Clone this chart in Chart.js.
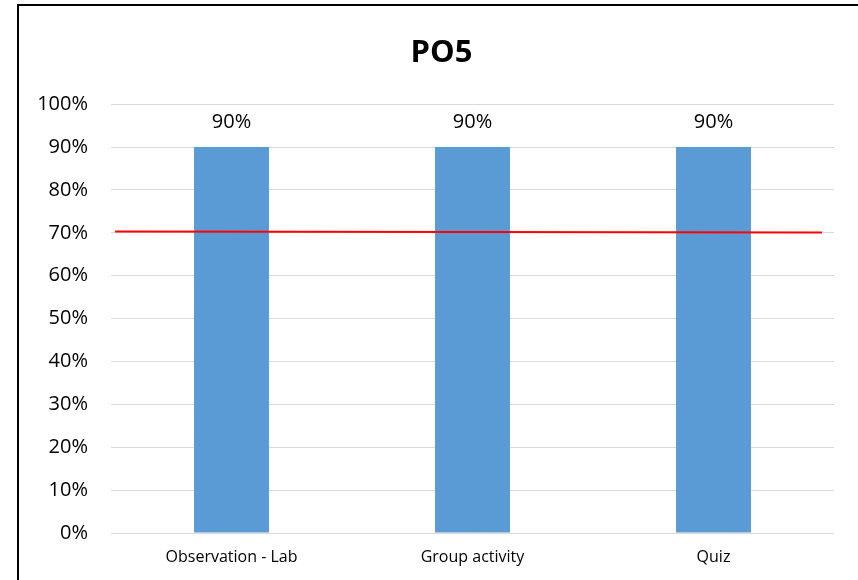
<!DOCTYPE html>
<html lang="en">
<head>
    <meta charset="UTF-8">
    <title>PO5</title>
    <script src="https://cdn.jsdelivr.net/npm/chart.js"></script>
    <style>
        body {
            margin: 0;
            padding: 0;
            background-color: #fff;
            overflow: hidden;
            font-family: "Open Sans", Arial, sans-serif;
        }

        .chart-frame {
            position: absolute;
            left: 17px;
            top: 4px;
            width: 845px;
            height: 580px;
            border: 2px solid #000;
            background-color: #fff;
        }
    </style>
</head>
<body>
    <div class="chart-frame">
        <canvas id="poChart" width="845" height="580"></canvas>
    </div>

    <script>
        // chart data
        const categories = ['Observation - Lab', 'Group activity', 'Quiz'];
        const scores = [0.9, 0.9, 0.9];
        const yTicks = [0, 0.1, 0.2, 0.3, 0.4, 0.5, 0.6, 0.7, 0.8, 0.9, 1.0];

        // target line (runs across the plot, ends)
        const targetX = [0.017, 2.95];
        const targetY = [0.703, 0.701];

        const pct = v => Math.round(v * 100) + '%';

        // small plugin to write the value above each bar
        const barLabels = {
            id: 'barLabels',
            afterDatasetsDraw(chart) {
                const ctx = chart.ctx;
                const meta = chart.getDatasetMeta(0);
                ctx.save();
                ctx.font = '20px "Open Sans"';
                ctx.fillStyle = '#000';
                ctx.textAlign = 'center';
                ctx.textBaseline = 'middle';
                meta.data.forEach((bar, i) => {
                    ctx.fillText(pct(scores[i]), bar.x, bar.y - 25);
                });
                ctx.restore();
            }
        };

        const ctx = document.getElementById('poChart').getContext('2d');
        new Chart(ctx, {
            data: {
                labels: categories,
                datasets: [{
                    type: 'bar',
                    label: 'PO5',
                    data: scores,
                    backgroundColor: '#5b9bd5',
                    grouped: false,
                    categoryPercentage: 1,
                    barPercentage: 0.311,
                    order: 1
                }, {
                    type: 'line',
                    label: 'Target',
                    data: targetX.map((x, i) => ({ x: x, y: targetY[i] })),
                    xAxisID: 'x2',
                    borderColor: '#ff0000',
                    borderWidth: 2,
                    pointRadius: 0,
                    fill: false,
                    order: 0
                }]
            },
            options: {
                responsive: false,
                animation: false,
                layout: {
                    padding: 0
                },
                plugins: {
                    legend: { display: false },
                    tooltip: { enabled: false },
                    title: {
                        display: true,
                        text: 'PO5',
                        color: '#000',
                        font: { family: '"Open Sans"', size: 31, weight: 'bold', lineHeight: 1.2 },
                        padding: { top: 29, bottom: 32 }
                    }
                },
                scales: {
                    x: {
                        type: 'category',
                        grid: { display: false, drawTicks: false },
                        border: { display: false },
                        ticks: {
                            color: '#000',
                            padding: 15,
                            font: { family: '"Open Sans"', size: 16 }
                        },
                        afterFit(scale) { scale.height = 53; }
                    },
                    x2: {
                        type: 'linear',
                        display: false,
                        min: 0,
                        max: 3
                    },
                    y: {
                        min: 0,
                        max: 1,
                        grid: { color: '#d9d9d9', lineWidth: 1, drawTicks: false },
                        border: { display: false },
                        afterBuildTicks(scale) {
                            scale.ticks = yTicks.map(v => ({ value: v }));
                        },
                        ticks: {
                            color: '#000',
                            padding: 23,
                            font: { family: '"Open Sans"', size: 20 },
                            callback: v => pct(v)
                        },
                        afterFit(scale) { scale.width = 92; }
                    },
                    // empty right-hand axis, only keeps the gap at the right of the plot
                    yGap: {
                        position: 'right',
                        min: 0,
                        max: 1,
                        grid: { display: false, drawTicks: false },
                        border: { display: false },
                        ticks: { display: false },
                        afterFit(scale) { scale.width = 30; }
                    }
                }
            },
            plugins: [barLabels]
        });
    </script>
</body>
</html>
